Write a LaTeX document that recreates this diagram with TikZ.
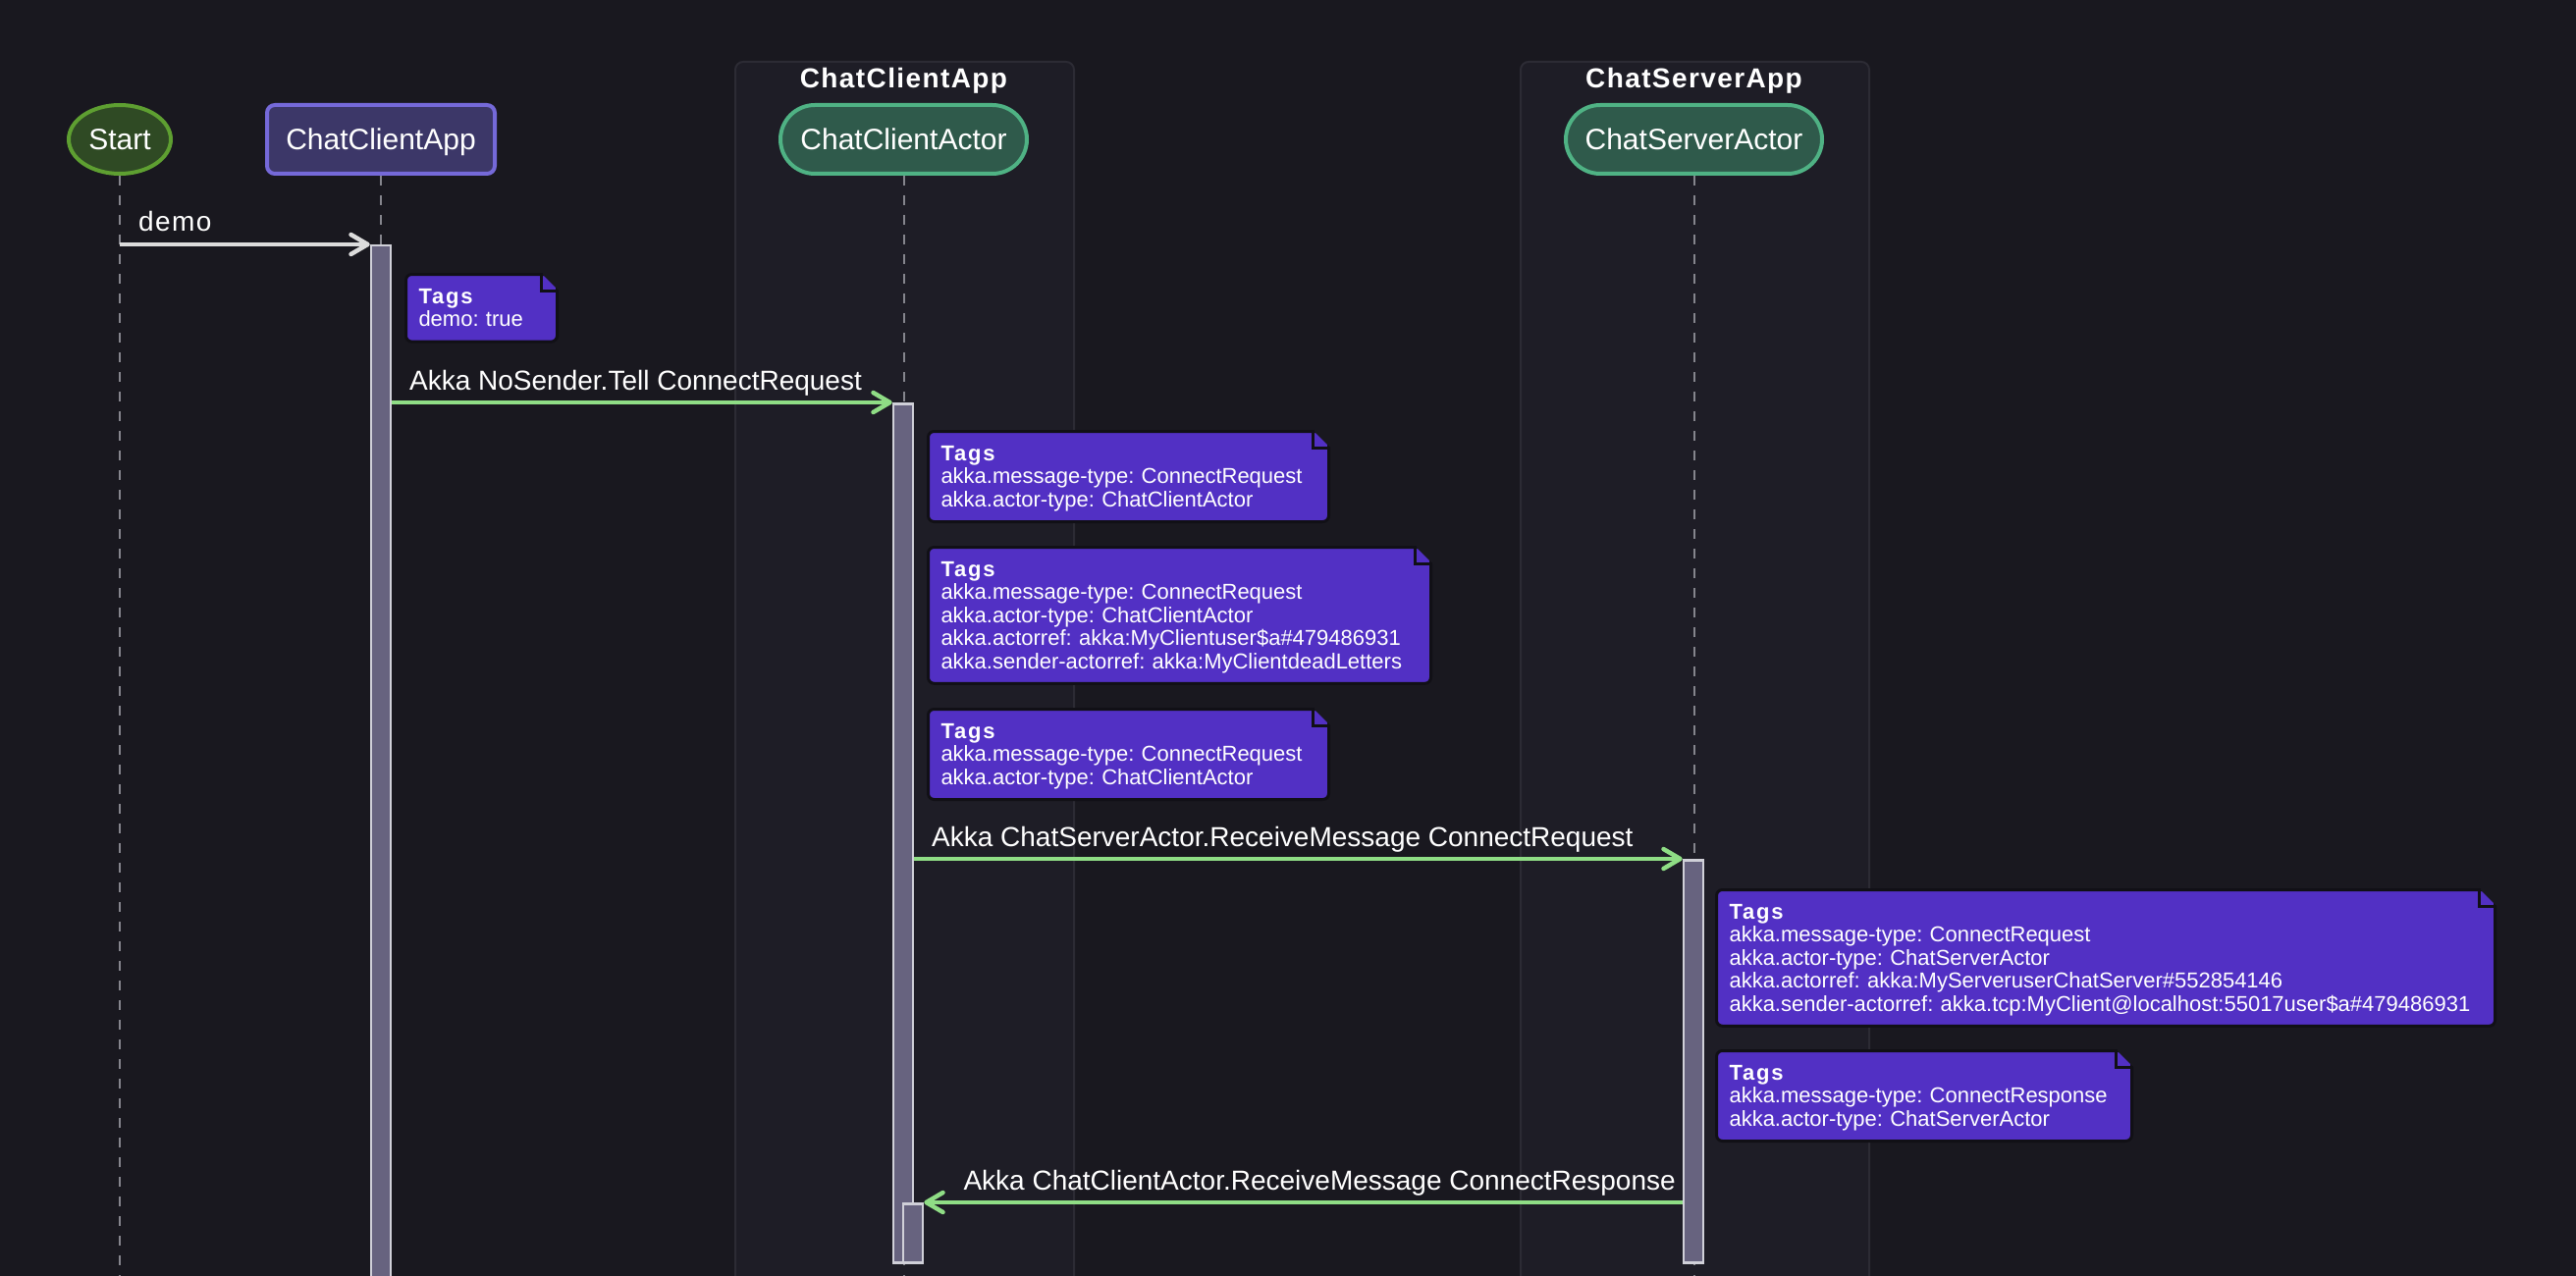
\documentclass[tikz,border=0pt]{standalone}
\usepackage{fontspec}
\setmainfont{Liberation Sans}
\newfontfamily\titlefont{Liberation Sans}[LetterSpace=5]
\newfontfamily\tagfont{Liberation Sans}[LetterSpace=8]
\newfontfamily\spacedfont{Liberation Sans}[LetterSpace=5]
\usetikzlibrary{arrows.meta,shapes.geometric}
\frenchspacing
\definecolor{bg}{HTML}{19181F}
\definecolor{grpfill}{HTML}{1E1D26}
\definecolor{grpline}{HTML}{2C2B34}
\definecolor{startfill}{HTML}{2F4A24}
\definecolor{startline}{HTML}{5E9F31}
\definecolor{appfill}{HTML}{3C3768}
\definecolor{appline}{HTML}{7569D9}
\definecolor{actfill}{HTML}{2F5A4B}
\definecolor{actline}{HTML}{4FB284}
\definecolor{notefill}{HTML}{5230C4}
\definecolor{noteline}{HTML}{111016}
\definecolor{barfill}{HTML}{67637F}
\definecolor{barline}{HTML}{D0D0D8}
\definecolor{msggreen}{HTML}{8FDD85}
\definecolor{msgwhite}{HTML}{DCDCDC}
\definecolor{lifeline}{HTML}{85858D}
\tikzset{
  lbl/.style={text=white, font=\fontsize{28}{34}\selectfont, inner sep=0pt},
  partlbl/.style={text=white, font=\fontsize{30}{36}\selectfont, text height=21.5pt, text depth=0pt, inner sep=0pt},
  startnode/.style={partlbl, ellipse, draw=startline, fill=startfill, line width=4pt, minimum width=104pt, minimum height=70pt},
  appnode/.style={partlbl, rectangle, rounded corners=8pt, draw=appline, fill=appfill, line width=4pt, minimum width=232pt, minimum height=70pt},
  actornode/.style={partlbl, rectangle, rounded corners=35pt, draw=actline, fill=actfill, line width=4pt, minimum height=70pt},
  grpbox/.style={draw=grpline, fill=grpfill, line width=2pt, rounded corners=8pt, inner sep=0pt, anchor=north west},
  grptitle/.style={text=white, font=\titlefont\fontsize{28}{34}\selectfont\bfseries, inner sep=0pt, anchor=base},
  life/.style={draw=lifeline, line width=2pt, dash pattern=on 10pt off 10pt},
  actbar/.style={draw=barline, fill=barfill, line width=2.5pt, minimum width=20pt, inner sep=0pt, anchor=north},
  msg/.style={draw=msggreen, line width=3.5pt, -{Straight Barb[length=17pt,width=20pt,line width=4.5pt,round]}},
  msgw/.style={msg, draw=msgwhite},
  note/.style={fill=notefill, draw=noteline, line width=3pt, rounded corners=6pt, anchor=north west, inner xsep=13pt, inner ysep=10pt, align=left, text=white, font=\fontsize{22}{23.4}\selectfont},
  fold/.style={draw=noteline, line width=3pt},
}
\newcommand\notefold[1]{%
  \fill[bg] ([xshift=-20pt,yshift=2pt]#1.north east) -- ([xshift=2pt,yshift=2pt]#1.north east) -- ([xshift=2pt,yshift=-20pt]#1.north east) -- cycle;
  \draw[fold] ([xshift=-18pt]#1.north east) -- ([xshift=-18pt,yshift=-18pt]#1.north east) -- ([yshift=-18pt]#1.north east);}
\newcommand\tagsline{\rule{0pt}{20pt}{\tagfont\bfseries Tags}}
\newcommand\lastrule{\rule[-5.2pt]{0pt}{5.2pt}}
\begin{document}
\begin{tikzpicture}[x=1pt,y=-1pt]
\useasboundingbox (0,0) rectangle (2624,1300);
\fill[bg] (0,0) rectangle (2624,1300);
\begin{scope}
\clip (0,0) rectangle (2624,1300);
% groups
\node[grpbox, minimum width=345pt, minimum height=1280pt] (g1) at (748,62) {};
\node[grpbox, minimum width=355pt, minimum height=1280pt] (g2) at (1548,62) {};
\node[grptitle] (t1) at (920.5,90) {ChatClientApp};
\node[grptitle] (t2) at (1725.5,90) {ChatServerApp};
% participants
\node[startnode] (start) at (122,142) {Start};
\node[appnode] (app) at (388,142) {ChatClientApp};
\node[actornode, minimum width=251pt] (cca) at (920.5,142) {ChatClientActor};
\node[actornode, minimum width=261pt] (csa) at (1725.5,142) {ChatServerActor};
% lifelines
\coordinate (startB) at (122,1300);
\draw[life] (start.south) -- (startB);
\draw[life] (app.south) -- (app.south |- startB);
\draw[life] (cca.south) -- (cca.south |- startB);
\draw[life] (csa.south) -- (csa.south |- startB);
% activation bars
\node[actbar, minimum height=1070pt] (b1) at (388,249) {};
\node[actbar, minimum height=875pt] (b2) at (920,410) {};
\node[actbar, minimum height=410pt] (b3) at (1725,875) {};
\node[actbar, minimum height=60pt] (b4) at (930,1225) {};
% messages
\coordinate (demoS) at (122,249);
\draw[msgw] (demoS) -- (b1.north west);
\draw[msg] (b1.north east |- b2.north west) -- (b2.north west);
\draw[msg] (b2.north east |- b3.north west) -- (b3.north west);
\draw[msg] (b3.north west |- b4.north east) -- (b4.north east);
\node[lbl, font=\spacedfont\fontsize{28}{34}\selectfont, anchor=base west] (ldemo) at (141,236) {demo};
\node[lbl, anchor=base west] (l2) at (417,397) {Akka NoSender.Tell ConnectRequest};
\node[lbl, anchor=base west] (l3) at (949,862) {Akka ChatServerActor.ReceiveMessage ConnectRequest};
\node[lbl, anchor=base east] (l4) at (1707,1212) {Akka ChatClientActor.ReceiveMessage ConnectResponse};
% notes
\node[note, text width=128pt] (n1) at (412,278) {\tagsline\\\mbox{demo: true}\lastrule};
\notefold{n1}
\node[note, text width=382pt] (n2) at (944,438) {\tagsline\\\mbox{akka.message-type: ConnectRequest}\\\mbox{akka.actor-type: ChatClientActor}\lastrule};
\notefold{n2}
\node[note, text width=486pt] (n3) at (944,556) {\tagsline\\\mbox{akka.message-type: ConnectRequest}\\\mbox{akka.actor-type: ChatClientActor}\\\mbox{akka.actorref: akka:MyClientuser\$a\#479486931}\\\mbox{akka.sender-actorref: akka:MyClientdeadLetters}\lastrule};
\notefold{n3}
\node[note, text width=382pt] (n4) at (944,721) {\tagsline\\\mbox{akka.message-type: ConnectRequest}\\\mbox{akka.actor-type: ChatClientActor}\lastrule};
\notefold{n4}
\node[note, text width=767pt] (n5) at (1747,905) {\tagsline\\\mbox{akka.message-type: ConnectRequest}\\\mbox{akka.actor-type: ChatServerActor}\\\mbox{akka.actorref: akka:MyServeruserChatServer\#552854146}\\\mbox{akka.sender-actorref: akka.tcp:MyClient@localhost:55017user\$a\#479486931}\lastrule};
\notefold{n5}
\node[note, text width=397pt] (n6) at (1747,1069) {\tagsline\\\mbox{akka.message-type: ConnectResponse}\\\mbox{akka.actor-type: ChatServerActor}\lastrule};
\notefold{n6}
\end{scope}
\end{tikzpicture}
\end{document}
